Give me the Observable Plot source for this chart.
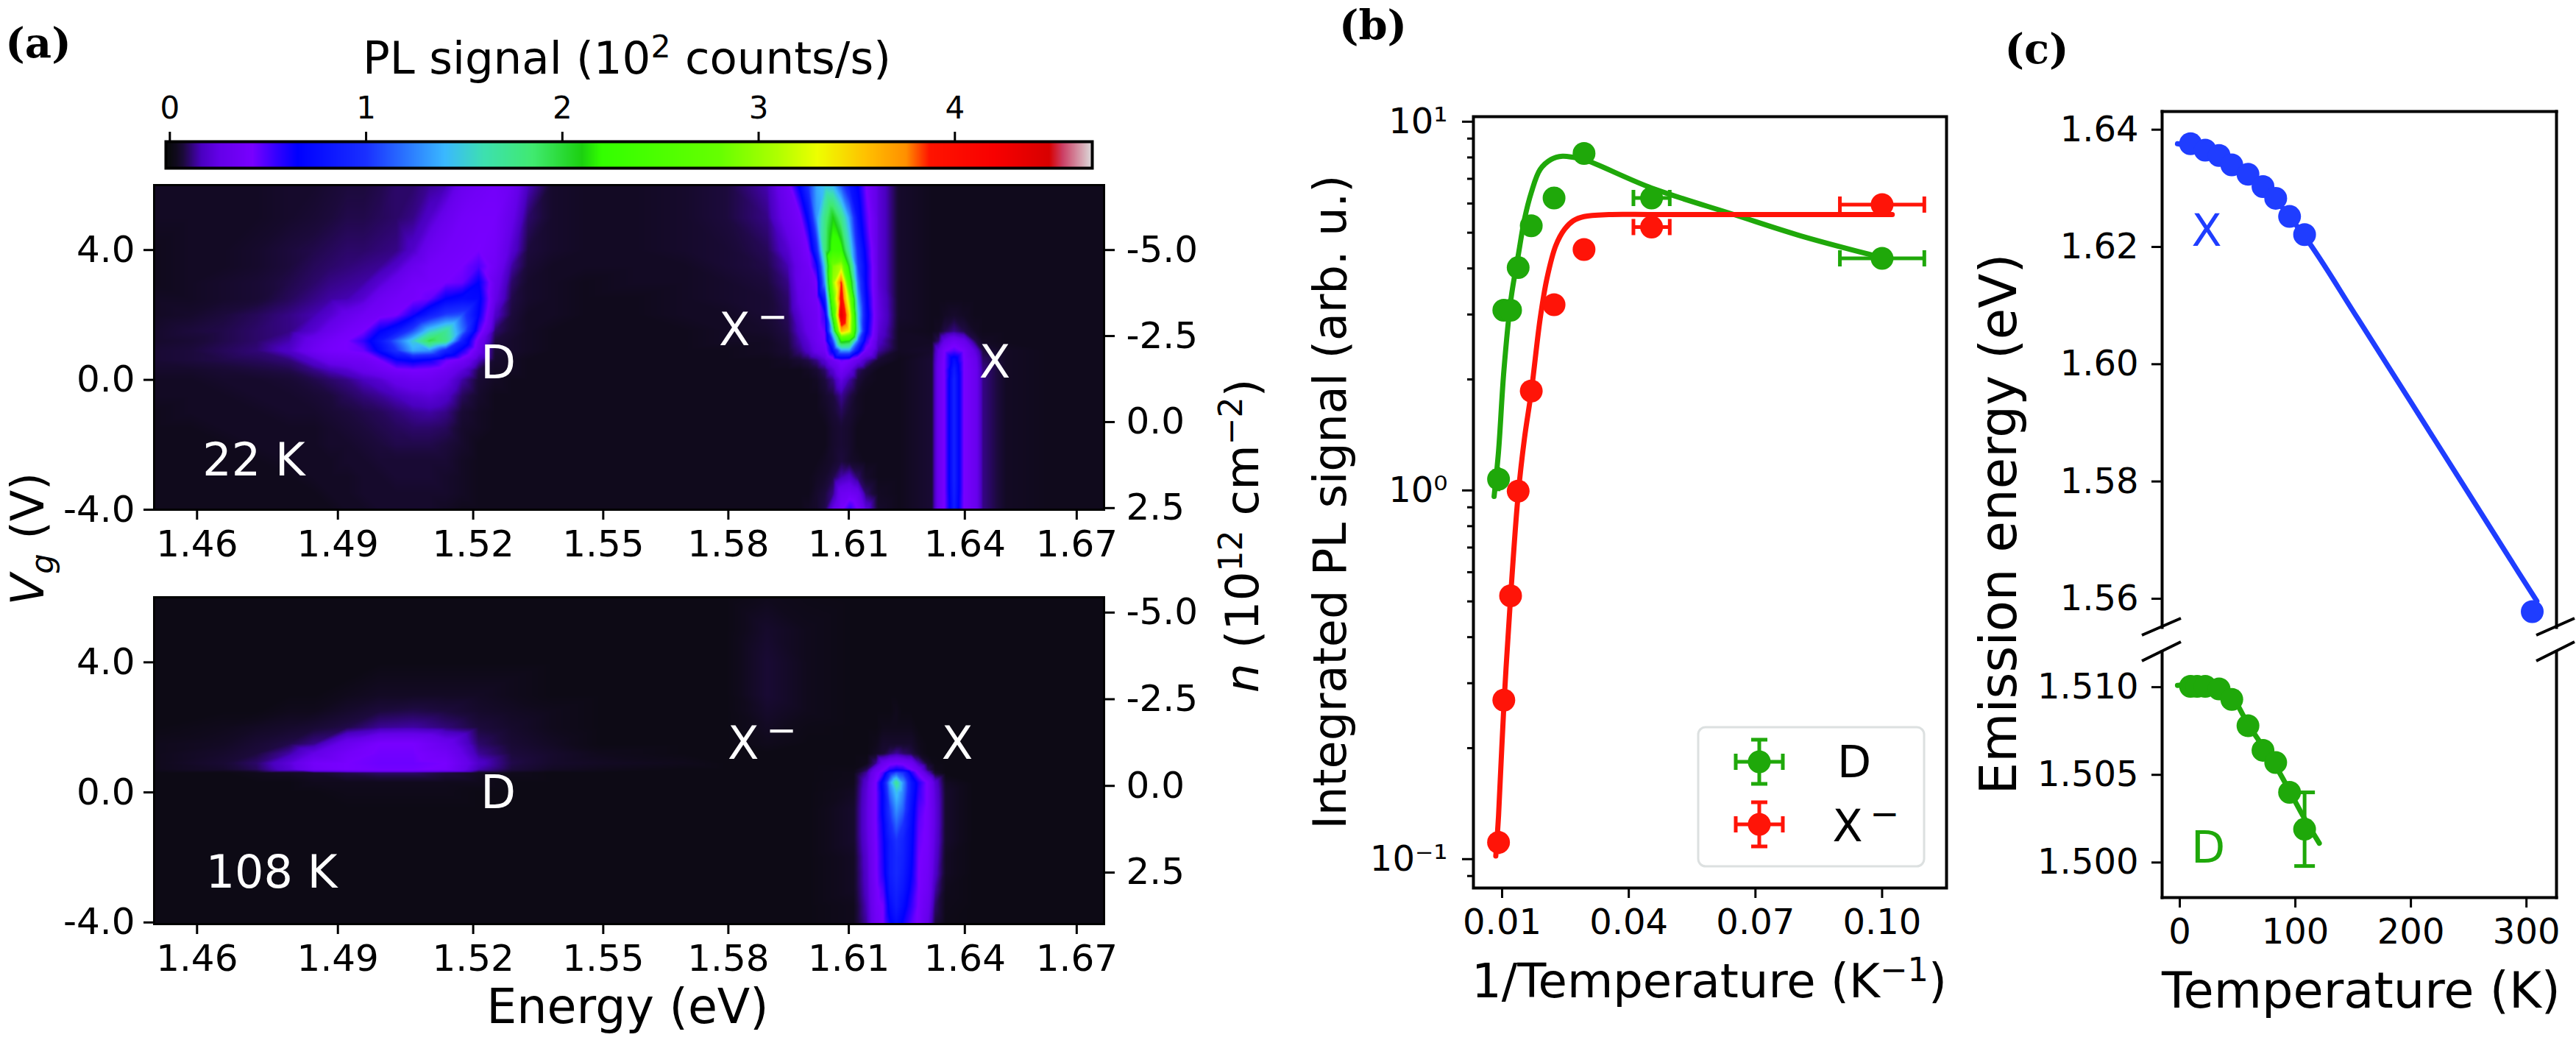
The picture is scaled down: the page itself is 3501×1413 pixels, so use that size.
<!DOCTYPE html>
<html><head><meta charset="utf-8">
<style>
html,body{margin:0;padding:0;background:#fff}
#page{position:relative;width:3501px;height:1413px;overflow:hidden;background:#fff;font-family:"DejaVu Sans",sans-serif;color:#000}
#page>div.p{position:absolute}
.l{position:absolute;white-space:nowrap;line-height:1;transform-origin:center}
sup{font-size:.7em;line-height:0}sub{font-size:.7em;line-height:0}
sup.m{font-size:.8em;margin-left:.2em}
</style>
<script src="https://cdn.jsdelivr.net/npm/d3@7"></script>
<script src="https://cdn.jsdelivr.net/npm/@observablehq/plot@0.6"></script>
</head><body><div id="page"></div>
<script>
// ---------- data ----------
const hc = 1239.84; // eV nm
const cbarStops  = [0,.03,.07,.16,.25,.42,.55,.65,1.0,1.4,1.6,1.85,2.1,2.2,2.8,3.1,3.3,3.55,3.75,3.87,4.2,4.48,4.55,4.7];
const cbarColors = ["#0a0a0e","#100a1c","#1c0a3c","#4a00c0","#6400e8","#7800ff","#3000ff","#0000ff","#1a30ff","#3ab8ff","#3de0b0","#40ea70","#1cd010","#33ff00","#66ff00","#b0ff00","#eeff00","#ffc000","#ff9000","#ff1400","#f80000","#d80000","#cc4066","#dcdcdc"];
const energyTicks = [1.46,1.49,1.52,1.55,1.58,1.61,1.64,1.67];

// 22 K map: wavelength columns (nm), gate-voltage rows (V), PL signal (10^2 counts/s)
const topWave = [854.4,850,846,842,838,835,833,831,829,827,825,823,821,819,817,815,813,811,809,806,802,796,790,785,
                 780,777.5,776,775,774,773,772,771,770,769,768,766.5,764,
                 760,759.2,758.5,757.3,756.1,754.7,753.8,751,746,739.1];
const topVg = [6,5,4,3.5,3,2.5,2,1.5,1.2,.9,.6,.3,0,-.5,-1,-1.5,-2,-2.5,-3,-3.5,-4];
const topD = [
[.04,.04,.04,.04,.05,.05,.06,.07,.07,.08,.1,.1,.13,.15,.3,.35,.38,.33,.16,.05,.04,.04,.05,.07],
[.04,.04,.04,.04,.05,.06,.07,.08,.08,.09,.1,.12,.18,.3,.38,.4,.4,.27,.1,.05,.04,.04,.05,.07],
[.03,.04,.04,.05,.07,.08,.09,.1,.1,.11,.12,.18,.32,.38,.4,.42,.38,.2,.07,.05,.04,.04,.05,.06],
[.03,.04,.04,.05,.07,.09,.1,.11,.12,.13,.18,.3,.38,.4,.42,.5,.36,.14,.06,.04,.04,.04,.04,.06],
[.03,.04,.05,.06,.08,.1,.12,.13,.14,.2,.3,.38,.4,.42,.45,.65,.3,.1,.05,.04,.03,.04,.04,.05],
[.04,.04,.05,.06,.09,.12,.14,.15,.2,.33,.38,.4,.45,.65,.72,.7,.26,.08,.05,.04,.03,.03,.04,.05],
[.04,.05,.07,.09,.12,.15,.2,.28,.35,.38,.42,.6,.85,1.05,1.1,.65,.18,.07,.04,.04,.03,.03,.04,.04],
[.05,.07,.08,.1,.12,.2,.3,.38,.42,.65,.8,1.1,1.5,1.7,1.2,.5,.1,.06,.04,.03,.03,.03,.03,.04],
[.05,.06,.08,.1,.15,.3,.38,.42,.55,.8,1.15,1.5,1.95,1.75,.85,.34,.07,.05,.04,.03,.03,.03,.03,.04],
[.06,.07,.09,.11,.18,.34,.4,.42,.45,.7,1.0,1.35,1.3,.9,.6,.28,.06,.05,.04,.03,.03,.03,.03,.03],
[.06,.07,.08,.09,.11,.2,.3,.33,.35,.42,.62,.68,.62,.45,.36,.16,.05,.04,.03,.03,.03,.03,.03,.03],
[.05,.05,.06,.07,.08,.12,.16,.2,.28,.34,.4,.42,.4,.34,.22,.08,.04,.04,.03,.03,.03,.03,.03,.03],
[.04,.04,.05,.05,.06,.08,.1,.12,.16,.2,.28,.32,.32,.26,.14,.06,.04,.03,.03,.03,.03,.03,.03,.03],
[.04,.04,.04,.05,.05,.06,.07,.09,.11,.13,.16,.2,.22,.18,.09,.05,.03,.03,.03,.03,.03,.03,.03,.03],
[.03,.04,.04,.04,.05,.05,.06,.07,.08,.09,.11,.13,.14,.12,.06,.04,.03,.03,.03,.03,.03,.03,.03,.03],
[.03,.03,.04,.04,.04,.04,.05,.06,.07,.08,.09,.1,.1,.09,.05,.04,.03,.03,.03,.03,.03,.03,.03,.03],
[.03,.03,.03,.04,.04,.04,.05,.05,.06,.07,.08,.08,.08,.07,.05,.03,.03,.03,.03,.03,.03,.03,.03,.03],
[.03,.03,.03,.03,.04,.04,.04,.05,.05,.06,.06,.06,.06,.06,.04,.03,.03,.03,.03,.03,.03,.03,.03,.03],
[.03,.03,.03,.03,.03,.04,.04,.04,.05,.05,.06,.06,.06,.05,.04,.03,.03,.03,.03,.03,.03,.03,.03,.03],
[.03,.03,.03,.03,.03,.03,.04,.04,.05,.05,.05,.05,.05,.05,.04,.03,.03,.03,.03,.03,.03,.03,.03,.03],
[.03,.03,.03,.03,.03,.03,.03,.04,.04,.05,.05,.05,.05,.04,.03,.03,.03,.03,.03,.03,.03,.03,.03,.03]];
const topTrion = [
[.15,.35,.7,1.0,1.35,1.45,1.4,1.1,.8,.65,.42,.22,.05],
[.12,.3,.4,.7,1.3,1.75,2.1,1.75,1.3,.75,.5,.22,.05],
[.09,.2,.33,.42,.9,1.8,2.3,2.25,1.6,.95,.6,.22,.05],
[.08,.15,.3,.36,.6,1.5,2.9,3.1,2.0,1.05,.65,.22,.05],
[.07,.12,.3,.33,.42,1.3,3.0,3.9,2.4,1.2,.65,.22,.05],
[.06,.1,.27,.33,.38,.85,2.7,4.1,3.0,1.35,.7,.24,.05],
[.06,.09,.22,.3,.35,.55,2.3,4.4,3.4,1.5,.75,.25,.05],
[.05,.08,.18,.27,.34,.45,1.6,3.6,3.3,1.6,.7,.22,.04],
[.04,.07,.15,.22,.33,.42,1.1,2.2,2.1,1.2,.55,.18,.04],
[.04,.06,.12,.18,.28,.36,.7,1.3,1.3,.75,.38,.14,.04],
[.03,.04,.06,.08,.12,.2,.34,.45,.4,.28,.16,.06,.03],
[.03,.03,.03,.04,.06,.1,.2,.36,.25,.1,.06,.03,.03],
[.03,.03,.03,.03,.04,.07,.12,.24,.14,.07,.04,.03,.03],
[.03,.03,.03,.03,.03,.05,.07,.13,.08,.04,.03,.03,.03],
[.03,.03,.03,.03,.03,.04,.06,.09,.06,.04,.03,.03,.03],
[.03,.03,.03,.03,.03,.03,.05,.06,.05,.03,.03,.03,.03],
[.03,.03,.03,.03,.03,.03,.05,.06,.05,.03,.03,.03,.03],
[.03,.03,.03,.03,.03,.04,.05,.07,.05,.04,.03,.03,.03],
[.03,.03,.03,.03,.04,.05,.08,.15,.18,.1,.05,.03,.03],
[.03,.03,.03,.03,.05,.07,.12,.32,.35,.3,.1,.04,.03],
[.03,.03,.03,.04,.05,.08,.25,.4,.55,.42,.22,.05,.03]];
const topExciton = [
[.03,.03,.03,.03,.03,.03,.03,.03,.03,.03],
[.03,.03,.03,.03,.03,.03,.03,.03,.03,.03],
[.03,.03,.03,.03,.03,.03,.03,.03,.03,.03],
[.03,.03,.03,.03,.03,.03,.03,.03,.03,.03],
[.03,.03,.03,.03,.03,.03,.03,.03,.03,.03],
[.03,.03,.03,.03,.03,.03,.03,.03,.03,.03],
[.03,.03,.04,.05,.04,.03,.03,.03,.03,.03],
[.03,.04,.08,.12,.08,.04,.03,.03,.03,.03],
[.04,.1,.25,.35,.28,.08,.04,.03,.03,.03],
[.05,.25,.4,.48,.4,.22,.07,.04,.03,.03],
[.06,.28,.42,.75,.42,.28,.1,.04,.03,.03],
[.06,.3,.42,.85,.42,.3,.12,.04,.03,.03],
[.06,.3,.41,.9,.42,.3,.12,.04,.03,.03],
[.06,.3,.41,.9,.42,.3,.12,.04,.03,.03],
[.06,.3,.41,.9,.42,.3,.12,.04,.03,.03],
[.06,.3,.41,.9,.42,.3,.12,.04,.03,.03],
[.06,.3,.41,.9,.42,.3,.12,.04,.03,.03],
[.06,.3,.41,.9,.42,.3,.12,.04,.03,.03],
[.06,.3,.41,.9,.42,.3,.12,.04,.03,.03],
[.06,.3,.41,.88,.42,.3,.12,.04,.03,.03],
[.06,.3,.41,.85,.42,.3,.12,.04,.03,.03]];

// 108 K map
const botWave = [854.4,846,842,838,835,831,827,823,819,815,811,806,800,790,785,
                 780,775,769.5,767.9,766.8,765.9,765.1,764.3,763.5,762.5,761.6,760.5,759.6,758.3,755,745,739.1];
const botVg = [6,5,4,3.5,3,2.5,2,1.5,1.2,.9,.7,.6,.3,0,-.5,-1,-1.5,-2,-2.5,-3,-3.5,-4.05];
const botD = [
[.015,.015,.015,.015,.015,.015,.015,.015,.015,.015,.015,.015,.015,.015,.015],
[.015,.015,.015,.015,.015,.015,.015,.015,.015,.015,.015,.015,.015,.015,.015],
[.015,.015,.015,.015,.015,.015,.015,.015,.015,.015,.015,.015,.015,.015,.015],
[.015,.015,.015,.015,.015,.015,.03,.03,.03,.03,.03,.015,.015,.015,.015],
[.015,.015,.015,.015,.015,.03,.04,.04,.04,.04,.03,.015,.015,.015,.015],
[.015,.015,.015,.03,.03,.05,.07,.08,.07,.05,.04,.03,.015,.015,.015],
[.015,.03,.04,.05,.06,.08,.13,.14,.11,.07,.05,.03,.015,.015,.015],
[.03,.04,.06,.08,.12,.3,.42,.42,.3,.1,.06,.04,.015,.015,.015],
[.03,.05,.07,.14,.25,.38,.43,.43,.36,.13,.07,.05,.03,.015,.015],
[.03,.06,.1,.22,.38,.42,.44,.44,.42,.18,.08,.05,.04,.03,.015],
[.03,.05,.09,.2,.36,.42,.43,.43,.4,.15,.07,.04,.03,.015,.015],
[.015,.015,.03,.04,.05,.08,.1,.1,.07,.04,.03,.015,.015,.015,.015],
[.015,.015,.015,.015,.03,.03,.03,.03,.03,.03,.015,.015,.015,.015,.015],
[.015,.015,.015,.015,.015,.025,.025,.025,.025,.015,.015,.015,.015,.015,.015],
[.015,.015,.015,.015,.015,.015,.015,.015,.015,.015,.015,.015,.015,.015,.015],
[.015,.015,.015,.015,.015,.015,.015,.015,.015,.015,.015,.015,.015,.015,.015],
[.015,.015,.015,.015,.015,.015,.015,.015,.015,.015,.015,.015,.015,.015,.015],
[.015,.015,.015,.015,.015,.015,.015,.015,.015,.015,.015,.015,.015,.015,.015],
[.015,.015,.015,.015,.015,.015,.015,.015,.015,.015,.015,.015,.015,.015,.015],
[.015,.015,.015,.015,.015,.015,.015,.015,.015,.015,.015,.015,.015,.015,.015],
[.015,.015,.015,.015,.015,.015,.015,.015,.015,.015,.015,.015,.015,.015,.015],
[.015,.015,.015,.015,.015,.015,.015,.015,.015,.015,.015,.015,.015,.015,.015]];
const botX = [
[.03,.02,.015,.015,.015,.015,.015,.015,.015,.015,.015,.015,.015,.015,.015,.015,.015],
[.05,.03,.015,.015,.015,.015,.015,.015,.015,.015,.015,.015,.015,.015,.015,.015,.015],
[.06,.03,.015,.015,.015,.015,.015,.015,.015,.015,.015,.015,.015,.015,.015,.015,.015],
[.06,.03,.015,.015,.015,.015,.015,.015,.015,.015,.015,.015,.015,.015,.015,.015,.015],
[.06,.03,.015,.015,.015,.015,.015,.015,.015,.015,.015,.015,.015,.015,.015,.015,.015],
[.05,.03,.015,.015,.015,.015,.015,.03,.015,.015,.015,.015,.015,.015,.015,.015,.015],
[.04,.02,.015,.015,.015,.03,.03,.03,.03,.03,.015,.015,.015,.015,.015,.015,.015],
[.03,.015,.015,.015,.03,.05,.05,.05,.05,.05,.03,.015,.015,.015,.015,.015,.015],
[.015,.015,.015,.015,.04,.06,.1,.13,.1,.08,.04,.015,.015,.015,.015,.015,.015],
[.015,.015,.015,.03,.12,.3,.38,.4,.38,.32,.16,.05,.02,.015,.015,.015,.015],
[.015,.015,.02,.09,.3,.4,.55,.62,.58,.42,.3,.1,.03,.015,.015,.015,.015],
[.015,.015,.025,.14,.36,.5,.9,1.1,1.0,.6,.38,.18,.05,.015,.015,.015,.015],
[.015,.015,.03,.2,.42,.75,1.3,1.7,1.3,.8,.58,.4,.2,.04,.015,.015,.015],
[.015,.015,.04,.22,.42,.7,1.2,1.45,1.25,.8,.55,.4,.22,.05,.015,.015,.015],
[.015,.015,.05,.23,.42,.7,1.05,1.3,1.15,.75,.5,.4,.23,.05,.015,.015,.015],
[.015,.015,.05,.23,.42,.65,.95,1.15,1.0,.72,.47,.4,.23,.05,.015,.015,.015],
[.015,.015,.05,.22,.41,.62,.85,1.0,.9,.7,.45,.4,.22,.05,.015,.015,.015],
[.015,.015,.04,.2,.4,.6,.85,.95,.88,.68,.43,.38,.2,.04,.015,.015,.015],
[.015,.015,.04,.19,.4,.58,.85,.95,.85,.65,.42,.36,.18,.04,.015,.015,.015],
[.015,.015,.04,.18,.38,.5,.8,.9,.8,.6,.42,.34,.14,.03,.015,.015,.015],
[.015,.015,.03,.16,.37,.43,.72,.85,.72,.55,.41,.3,.1,.025,.015,.015,.015],
[.015,.015,.03,.14,.35,.42,.62,.72,.62,.48,.4,.25,.07,.02,.015,.015,.015]];

// (b) integrated PL signal vs 1/T
const invT  = [.00915,.0104,.012,.0138,.0169,.0223,.0294,.0454,.1];
const plD   = [1.073,3.08,3.08,4.02,5.22,6.21,8.2,6.21,4.26];
const plXm  = [.111,.27,.518,.996,1.86,3.19,4.5,5.18,5.96];
const invTErr = [.0002,.0002,.0002,.0003,.0003,.0005,.001,.0043,.01];
const plDErr  = [.08,.08,.08,.1,.1,.12,.5,.2,.12];
const plXmErr = [.008,.01,.01,.02,.03,.05,.15,.1,.1];
const fitDx = [.0081,.00915,.0104,.0121,.0138,.0153,.0169,.019,.0216,.0243,.0269,.0294,.0454,.0649,.0808,.1];
const fitDy = [.963,1.277,2.10,3.31,4.33,5.44,6.42,7.42,7.90,8.06,8.0,7.9,6.61,5.6,4.9,4.28];
const fitXx = [.0085,.00915,.0104,.012,.0138,.0153,.0169,.019,.0206,.0227,.0248,.0269,.0294,.0353,.0454,.0649,.1024];
const fitXy = [.102,.131,.259,.513,.975,1.387,1.85,2.92,3.75,4.61,5.11,5.39,5.53,5.6,5.6,5.6,5.6];
const logMajor = [.1,1,10];
const logMinor = [.09,.2,.3,.4,.5,.6,.7,.8,.9,2,3,4,5,6,7,8,9];

// (c) emission energy vs temperature
const tempX = [9.3,22,34,45,59,72,83,95,108,305];
const enX   = [1.6376,1.6365,1.6356,1.634,1.6324,1.6303,1.6283,1.6252,1.6221,1.5578];
const fitTX = [-2,22,45,72,108,154,220,287,309];
const fitEX = [1.6376,1.6365,1.634,1.6303,1.6218,1.6078,1.5873,1.5664,1.5596];
const tempD = [9.3,15,22,34,45,59,72,83,95,108];
const enD   = [1.51005,1.51005,1.51005,1.5099,1.5093,1.5078,1.5064,1.5057,1.504,1.5019];
const fitTD = [-2,34,45,59,83,108,120.7];
const fitED = [1.5101,1.5101,1.5095,1.5079,1.5055,1.5025,1.5011];
const errED = .0021, errTD = 108;

// ---------- helpers ----------
const FONT = "DejaVu Sans";
const GREEN="#1fa80a", RED="#ff1408", BLUE="#1f3dff";
const page = document.getElementById("page");
const colorScale = {type:"linear",domain:cbarStops,range:cbarColors,clamp:true};
const place = (svg,left,top)=>{const d=document.createElement("div");d.className="p";d.style.left=left+"px";d.style.top=top+"px";d.appendChild(svg);page.appendChild(d);};
const style = {fontFamily:FONT,background:"transparent",overflow:"visible"};
const grid = (waves,vgs,rows)=>rows.flatMap((r,i)=>r.map((v,j)=>({E:hc/waves[j],V:vgs[i],v})));
const capV = {draw(c,s){const r=Math.sqrt(s/Math.PI);c.moveTo(0,-r);c.lineTo(0,r);}};
const capH = {draw(c,s){const r=Math.sqrt(s/Math.PI);c.moveTo(-r,0);c.lineTo(r,0);}};
const fmt2 = d=>d.toFixed(2);

function mapPanel(points,yDomain,nTicks,v0,k,height,mt){
  const nOf = V=>{const n=(v0-V)/k;return Math.abs(n)<1e-9?0:n;};
  return Plot.plot({
    style,width:1700,height:mt+height+75,marginLeft:209,marginRight:200,marginTop:mt,marginBottom:75,
    x:{type:"pow",exponent:-1,domain:[1.4511,1.6775],axis:null},
    y:{domain:yDomain,axis:null},
    color:colorScale,
    marks:[
      Plot.raster(points,{x:"E",y:"V",fill:"v",x1:1.4511,x2:1.6775,y1:yDomain[0],y2:yDomain[1],interpolate:"barycentric",pixelSize:1}),
      Plot.frame({stroke:"#000",strokeWidth:3}),
      Plot.axisX({anchor:"bottom",ticks:energyTicks,tickFormat:fmt2,tickSize:14,tickPadding:14,fontSize:50,strokeWidth:3,label:null}),
      Plot.axisY({anchor:"left",ticks:[-4,0,4],tickFormat:d=>d.toFixed(1),tickSize:14,tickPadding:12,fontSize:50,strokeWidth:3,label:null}),
      Plot.axisY({anchor:"right",ticks:nTicks.map(n=>v0-k*n),tickFormat:d=>nOf(d).toFixed(1),tickSize:14,tickPadding:16,fontSize:50,strokeWidth:3,label:null})
    ]
  });
}

// ---------- colour bar ----------
place(Plot.plot({
  style,width:1500,height:92+36+8,marginLeft:225,marginRight:16,marginTop:92,marginBottom:8,
  x:{domain:[-.02,4.7],axis:null},y:{domain:[0,1],axis:null},color:colorScale,
  marks:[
    Plot.raster({fill:(x,y)=>x,x1:-.02,x2:4.7,y1:0,y2:1,pixelSize:1}),
    Plot.frame({stroke:"#000",strokeWidth:4}),
    Plot.axisX({anchor:"top",ticks:[0,1,2,3,4],tickFormat:d=>String(d),tickSize:14,tickPadding:18,fontSize:42,strokeWidth:3,label:null})
  ]
}),0,100);

// ---------- (a) maps ----------
const topPts = grid(topWave,topVg,topD.map((r,i)=>[...r,...topTrion[i],...topExciton[i]]));
const botPts = grid(botWave,botVg,botD.map((r,i)=>[...r,...botX[i]]));
place(mapPanel(topPts,[-4,6],[-5,-2.5,0,2.5],-1.30,1.06,441,10),0,241);
place(mapPanel(botPts,[-4.05,6],[-5,-2.5,0,2.5],.2,1.066,444,10),0,801);

// ---------- (b) ----------
const ptsB = invT.map((x,i)=>({x,dx:invTErr[i],d:plD[i],dd:plDErr[i],m:plXm[i],dm:plXmErr[i]}));
const lineOf = (xs,ys)=>xs.map((x,i)=>({x,y:ys[i]}));
const errorMarks = (key,errKey,color)=>[
  Plot.ruleY(ptsB,{y:key,x1:d=>d.x-d.dx,x2:d=>d.x+d.dx,stroke:color,strokeWidth:5}),
  Plot.ruleX(ptsB,{x:"x",y1:d=>d[key]-d[errKey],y2:d=>d[key]+d[errKey],stroke:color,strokeWidth:5}),
  Plot.dot(ptsB,{x:d=>d.x-d.dx,y:key,symbol:capV,r:11,stroke:color,strokeWidth:5,fill:"none"}),
  Plot.dot(ptsB,{x:d=>d.x+d.dx,y:key,symbol:capV,r:11,stroke:color,strokeWidth:5,fill:"none"}),
  Plot.dot(ptsB,{x:"x",y:key,r:15.5,fill:color})
];
place(Plot.plot({
  style,width:720,height:18+1048+75,marginLeft:242,marginRight:-165,marginTop:18,marginBottom:75,
  x:{domain:[.0032,.11526],axis:null},
  y:{type:"log",domain:[.0835,10.32],axis:null},
  marks:[
    Plot.frame({stroke:"#000",strokeWidth:4}),
    Plot.axisY({anchor:"left",ticks:logMinor,tickFormat:()=>"",tickSize:8,strokeWidth:3,label:null}),
    Plot.axisY({anchor:"left",ticks:logMajor,tickFormat:d=>d===.1?"10⁻¹":d===1?"10⁰":"10¹",tickSize:15,tickPadding:20,fontSize:48,strokeWidth:3,label:null}),
    Plot.axisX({anchor:"bottom",ticks:[.01,.04,.07,.1],tickFormat:fmt2,tickSize:14,tickPadding:14,fontSize:48,strokeWidth:3,label:null}),
    Plot.line(lineOf(fitDx,fitDy),{x:"x",y:"y",stroke:GREEN,strokeWidth:7,curve:"catmull-rom"}),
    Plot.line(lineOf(fitXx,fitXy),{x:"x",y:"y",stroke:RED,strokeWidth:7,curve:"catmull-rom"}),
    ...errorMarks("d","dd",GREEN),
    ...errorMarks("m","dm",RED)
  ]
}),1760,140);

// ---------- (c) ----------
const lineC = (xs,ys)=>xs.map((x,i)=>({x,y:ys[i]}));
place(Plot.plot({
  style,width:700,height:12+701+4,marginLeft:178,marginRight:-14,marginTop:12,marginBottom:4,
  x:{domain:[-15.3,326],axis:null},
  y:{domain:[1.5551,1.6431],axis:null},
  marks:[
    Plot.frame({anchor:"left",stroke:"#000",strokeWidth:4}),
    Plot.frame({anchor:"top",stroke:"#000",strokeWidth:4}),
    Plot.frame({anchor:"right",stroke:"#000",strokeWidth:4}),
    Plot.axisY({anchor:"left",ticks:[1.56,1.58,1.6,1.62,1.64],tickFormat:fmt2,tickSize:14,tickPadding:18,fontSize:48,strokeWidth:3,label:null}),
    Plot.line(lineC(fitTX,fitEX),{x:"x",y:"y",stroke:BLUE,strokeWidth:7,curve:"catmull-rom"}),
    Plot.dot(lineC(tempX,enX),{x:"x",y:"y",r:15.5,fill:BLUE})
  ]
}),2760,139);
place(Plot.plot({
  style,width:700,height:4+334+75,marginLeft:178,marginRight:-14,marginTop:4,marginBottom:75,
  x:{domain:[-15.3,326],axis:null},
  y:{domain:[1.498,1.51202],axis:null},
  marks:[
    Plot.frame({anchor:"left",stroke:"#000",strokeWidth:4}),
    Plot.frame({anchor:"bottom",stroke:"#000",strokeWidth:4}),
    Plot.frame({anchor:"right",stroke:"#000",strokeWidth:4}),
    Plot.axisY({anchor:"left",ticks:[1.5,1.505,1.51],tickFormat:d=>d.toFixed(3),tickSize:14,tickPadding:18,fontSize:48,strokeWidth:3,label:null}),
    Plot.axisX({anchor:"bottom",ticks:[0,100,200,300],tickFormat:d=>String(d),tickSize:14,tickPadding:14,fontSize:48,strokeWidth:3,label:null}),
    Plot.line(lineC(fitTD,fitED),{x:"x",y:"y",stroke:GREEN,strokeWidth:7,curve:"catmull-rom"}),
    Plot.ruleX([errTD],{x:d=>d,y1:1.5019-errED,y2:1.5019+errED,stroke:GREEN,strokeWidth:5}),
    Plot.dot([1.5019-errED,1.5019+errED],{x:()=>errTD,y:d=>d,symbol:capH,r:14,stroke:GREEN,strokeWidth:5,fill:"none"}),
    Plot.dot(lineC(tempD,enD),{x:"x",y:"y",r:15.5,fill:GREEN})
  ]
}),2760,881);

// ---------- labels ----------
const MINUS = '<sup class="m">&#8722;</sup>';
const LABELS = [
  {h:"(a)",x:52,y:58,s:56,f:"'DejaVu Serif'",w:"bold"},
  {h:"(b)",x:1866,y:34,s:56,f:"'DejaVu Serif'",w:"bold"},
  {h:"(c)",x:2768,y:66,s:56,f:"'DejaVu Serif'",w:"bold"},
  {h:"PL signal (10<sup>2</sup> counts/s)",x:852,y:78,s:61},
  {h:"22 K",x:345,y:625,s:62,c:"#fff"},
  {h:"D",x:677,y:493,s:62,c:"#fff"},
  {h:"X"+MINUS,x:1024,y:448,s:62,c:"#fff"},
  {h:"X",x:1352,y:492,s:62,c:"#fff"},
  {h:"108 K",x:369,y:1185,s:62,c:"#fff"},
  {h:"D",x:677,y:1077,s:62,c:"#fff"},
  {h:"X"+MINUS,x:1036,y:1010,s:62,c:"#fff"},
  {h:"X",x:1301,y:1010,s:62,c:"#fff"},
  {h:"<i>V<sub>g</sub></i> (V)",x:38,y:732,s:62,r:-90},
  {h:"<i>n</i> (10<sup>12</sup> cm<sup>&#8722;2</sup>)",x:1688,y:728,s:63,r:-90},
  {h:"Energy (eV)",x:853,y:1367,s:65},
  {h:"Integrated PL signal (arb. u.)",x:1808,y:682,s:62,r:-90},
  {h:"1/Temperature (K<sup>&#8722;1</sup>)",x:2323,y:1333,s:64},
  {h:"Emission energy (eV)",x:2716,y:712,s:69,r:-90},
  {h:"Temperature (K)",x:3209,y:1346,s:67},
  {h:"X",x:2999,y:313,s:60,c:BLUE},
  {h:"D",x:3001,y:1151,s:60,c:GREEN},
  {h:"D",x:2520,y:1035,s:60},
  {h:"X"+MINUS,x:2536,y:1122,s:60}
];
for(const l of LABELS){
  const d=document.createElement("div");d.className="l";d.innerHTML=l.h;
  d.style.left=l.x+"px";d.style.top=l.y+"px";d.style.fontSize=l.s+"px";
  if(l.f)d.style.fontFamily=l.f; if(l.w)d.style.fontWeight=l.w; if(l.c)d.style.color=l.c;
  d.style.transform=`translate(-50%,-50%) rotate(${l.r||0}deg)`;
  page.appendChild(d);
}

// legend box, legend markers and axis-break marks
const ns="http://www.w3.org/2000/svg";
const over=document.createElementNS(ns,"svg");
over.setAttribute("width",3501);over.setAttribute("height",1413);
over.style.cssText="position:absolute;left:0;top:0;pointer-events:none";
const add=(t,a)=>{const e=document.createElementNS(ns,t);for(const k in a)e.setAttribute(k,a[k]);over.appendChild(e);};
add("rect",{x:2308,y:988,width:307,height:189,rx:10,fill:"#fff",stroke:"#dce0e0","stroke-width":3});
for(const [cy,col] of [[1035,GREEN],[1120,RED]]){
  const cx=2391;
  for(const [a,b,c,d] of [[cx-32,cy,cx+32,cy],[cx,cy-30,cx,cy+30],[cx-32,cy-11,cx-32,cy+11],[cx+32,cy-11,cx+32,cy+11],[cx-11,cy-30,cx+11,cy-30],[cx-11,cy+30,cx+11,cy+30]])
    add("line",{x1:a,y1:b,x2:c,y2:d,stroke:col,"stroke-width":5});
  add("circle",{cx,cy,r:15.5,fill:col});
}
for(const [a,b,c,d] of [[2911,863,2964,840],[2911,898,2964,872],[3447,863,3499,840],[3447,898,3499,872]])
  add("line",{x1:a,y1:b,x2:c,y2:d,stroke:"#000","stroke-width":4});
page.insertBefore(over,page.querySelector(".l"));
</script></body></html>
